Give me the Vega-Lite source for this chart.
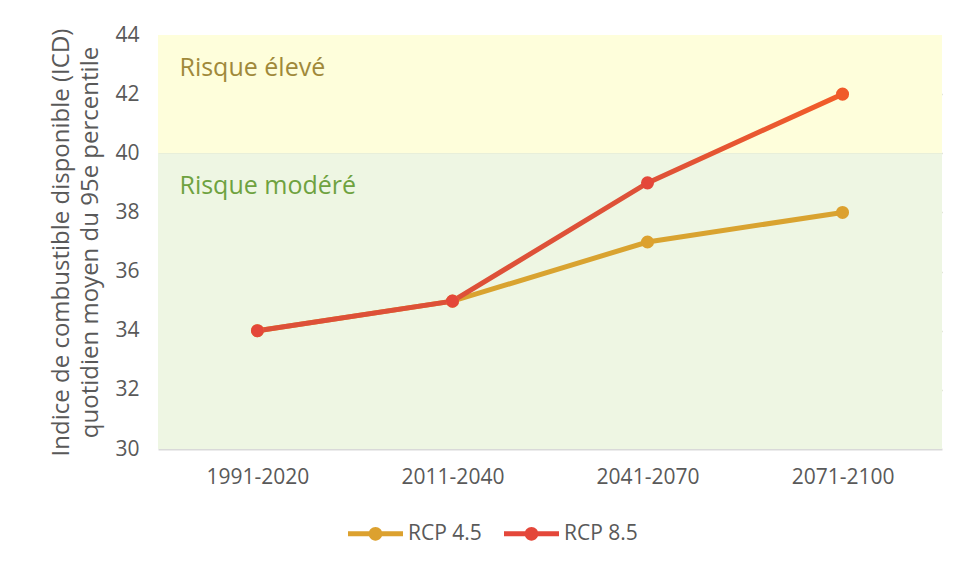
{
  "$schema": "https://vega.github.io/schema/vega-lite/v6.json",
  "width": 784,
  "height": 414,
  "autosize": {"type": "none"},
  "padding": {"left": 158, "top": 35, "right": 16, "bottom": 120},
  "background": "white",
  "config": {
    "font": "Open Sans",
    "view": {"stroke": null},
    "axis": {"labelColor": "#595959", "titleColor": "#595959", "labelFontSize": 21, "ticks": false}
  },
  "datasets": {
    "bands": [
      {"zone": "Risque élevé", "low": 40, "high": 44},
      {"zone": "Risque modéré", "low": 30, "high": 40}
    ],
    "series": [
      {"period": "1991-2020", "series": "RCP 4.5", "value": 34},
      {"period": "2011-2040", "series": "RCP 4.5", "value": 35},
      {"period": "2041-2070", "series": "RCP 4.5", "value": 37},
      {"period": "2071-2100", "series": "RCP 4.5", "value": 38},
      {"period": "1991-2020", "series": "RCP 8.5", "value": 34},
      {"period": "2011-2040", "series": "RCP 8.5", "value": 35},
      {"period": "2041-2070", "series": "RCP 8.5", "value": 39},
      {"period": "2071-2100", "series": "RCP 8.5", "value": 42}
    ]
  },
  "encoding": {
    "x": {
      "field": "period", "type": "ordinal",
      "scale": {"type": "point", "padding": 0.51, "domain": ["1991-2020", "2011-2040", "2041-2070", "2071-2100"]},
      "axis": {"title": null, "labelAngle": 0, "labelPadding": 17, "domainColor": "#D9D9D9", "domainWidth": 2, "grid": false}
    },
    "y": {
      "field": "value", "type": "quantitative",
      "scale": {"domain": [30, 44], "nice": false, "zero": false},
      "axis": {
        "values": [30, 32, 34, 36, 38, 40, 42, 44],
        "title": ["Indice de combustible disponible (ICD)", "quotidien moyen du 95e percentile"],
        "titleFontSize": 24, "titleFontWeight": "normal", "titleLineHeight": 29, "titlePadding": 12,
        "labelPadding": 19, "domain": false,
        "grid": true, "gridColor": "#C8CDB4", "gridWidth": 1.5,
        "gridOpacity": {"condition": {"test": "datum.value == 44 || datum.value == 30", "value": 0}, "value": 1}
      }
    }
  },
  "layer": [
    {
      "data": {"name": "bands"},
      "mark": {"type": "rect"},
      "encoding": {
        "x": null,
        "y": {"field": "low", "type": "quantitative"},
        "y2": {"field": "high"},
        "fill": {"field": "zone", "type": "nominal", "scale": {"domain": ["Risque élevé", "Risque modéré"], "range": ["#FEFEDB", "#EEF6E3"]}, "legend": null}
      }
    },
    {
      "data": {"name": "bands"},
      "mark": {"type": "text", "align": "left", "baseline": "middle", "fontSize": 25, "dx": -78, "dy": 33},
      "encoding": {
        "x": {"datum": "1991-2020"},
        "y": {"field": "high", "type": "quantitative"},
        "text": {"field": "zone"},
        "color": {"condition": {"test": "datum.zone == 'Risque élevé'", "value": "#A0893A"}, "value": "#6EA23F"}
      }
    },
    {
      "data": {"name": "series"},
      "transform": [{"filter": "datum.series == 'RCP 4.5'"}],
      "mark": {"type": "line", "strokeWidth": 5, "stroke": "#D9A330"},
      "encoding": {}
    },
    {
      "data": {"name": "series"},
      "transform": [{"filter": "datum.series == 'RCP 8.5'"}],
      "mark": {
        "type": "line", "strokeWidth": 5,
        "stroke": {"gradient": "linear", "x1": 0, "y1": 0, "x2": 1, "y2": 0,
          "stops": [{"offset": 0, "color": "#DD5039"}, {"offset": 0.667, "color": "#DE5138"}, {"offset": 1, "color": "#F25D29"}]}
      },
      "encoding": {}
    },
    {
      "data": {"name": "series"},
      "mark": {"type": "point", "filled": true, "shape": "circle", "size": 170, "opacity": 1},
      "encoding": {
        "color": {
          "condition": {"test": "datum.series == 'RCP 8.5' && datum.period == '2071-2100'", "value": "#F05A2A"},
          "field": "series", "type": "nominal",
          "scale": {"domain": ["RCP 4.5", "RCP 8.5"], "range": ["#DCA12F", "#E4473A"]},
          "legend": {
            "title": null, "orient": "none", "direction": "horizontal",
            "legendX": 190, "legendY": 471, "padding": 0,
            "symbolType": "M-1,-0.09L1,-0.09L1,0.09L-1,0.09Z M0.25,0A0.25,0.25 0 1,1 -0.25,0A0.25,0.25 0 1,1 0.25,0Z",
            "symbolSize": 3025, "symbolStrokeWidth": 0, "symbolOpacity": 1,
            "labelFontSize": 21, "labelColor": "#595959", "labelOffset": 5, "columnPadding": 22
          }
        }
      }
    }
  ]
}
